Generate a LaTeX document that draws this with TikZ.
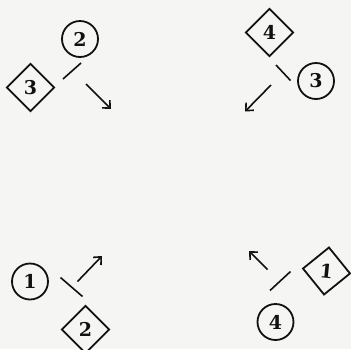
\documentclass[tikz,border=0pt]{standalone}
\usepackage{fontspec}
\setmainfont{DejaVu Serif}
\usetikzlibrary{arrows.meta,shapes.geometric}
\definecolor{Paper}{HTML}{F5F5F3}
\definecolor{Ink}{HTML}{111111}
\tikzset{
  disc/.style={circle,draw=Ink,line width=1.8pt,minimum size=36pt,inner sep=0pt,font=\fontsize{19}{19}\selectfont\bfseries,text=Ink},
  tile/.style={diamond,draw=Ink,line width=1.8pt,minimum size=48pt,inner sep=0pt,font=\fontsize{19}{19}\selectfont\bfseries,text=Ink},
  slash/.style={draw=Ink,line width=1.6pt},
  ray/.style={-{Straight Barb[length=6pt,width=11pt]},draw=Ink,line width=1.6pt}
}
\begin{document}
\begin{tikzpicture}[x=1pt,y=-1pt]
  \fill[Paper] (0,0) rectangle (351,349);
  \useasboundingbox (0,0) rectangle (351,349);
  % upper left
  \node[disc] (circTL) at (80,39) {2};
  \node[tile] (diamTL) at (30.5,87.5) {3};
  \coordinate (slashTLa) at (63,79);
  \coordinate (slashTLb) at (81,63);
  \coordinate (rayTLa) at (86,84);
  \coordinate (rayTLb) at (111,109);
  \draw[slash] (slashTLa) -- (slashTLb);
  \draw[ray] (rayTLa) -- (rayTLb);
  % upper right
  \node[tile] (diamTR) at (269.5,32.5) {4};
  \node[disc] (circTR) at (316,81) {3};
  \coordinate (slashTRa) at (276,65);
  \coordinate (slashTRb) at (290.5,80.5);
  \coordinate (rayTRa) at (271,85);
  \coordinate (rayTRb) at (245,111.5);
  \draw[slash] (slashTRa) -- (slashTRb);
  \draw[ray] (rayTRa) -- (rayTRb);
  % lower left
  \node[disc] (circBL) at (30,281.5) {1};
  \node[tile] (diamBL) at (85.5,329.5) {2};
  \coordinate (slashBLa) at (60.5,277.5);
  \coordinate (slashBLb) at (82.5,296.5);
  \coordinate (rayBLa) at (77.5,281.5);
  \coordinate (rayBLb) at (102,256);
  \draw[slash] (slashBLa) -- (slashBLb);
  \draw[ray] (rayBLa) -- (rayBLb);
  % lower right
  \node[tile,rotate=-6] (diamBR) at (326.5,271) {1};
  \node[disc] (circBR) at (275.5,322) {4};
  \coordinate (slashBRa) at (270,290.5);
  \coordinate (slashBRb) at (290.5,271.5);
  \coordinate (rayBRa) at (267.5,269.5);
  \coordinate (rayBRb) at (249,251);
  \draw[slash] (slashBRa) -- (slashBRb);
  \draw[ray] (rayBRa) -- (rayBRb);
\end{tikzpicture}
\end{document}
